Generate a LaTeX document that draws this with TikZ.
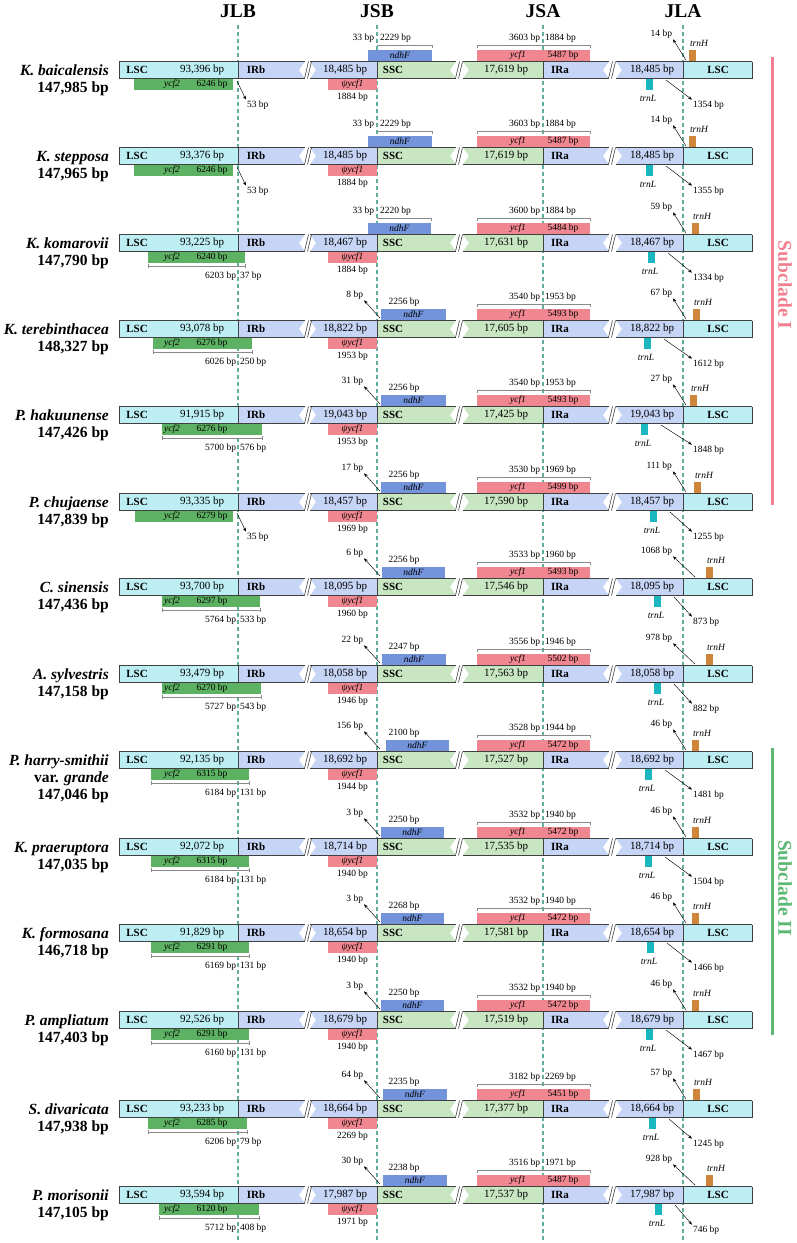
\documentclass[tikz,border=0pt]{standalone}
\usepackage{fontspec}
\setmainfont{Liberation Serif}
\usetikzlibrary{arrows.meta}
\definecolor{lscc}{HTML}{BDEEF3}
\definecolor{irc}{HTML}{C6D4F5}
\definecolor{sscc}{HTML}{C8E6C2}
\definecolor{ycftwoc}{HTML}{5CB262}
\definecolor{pinkc}{HTML}{F0868F}
\definecolor{ndhc}{HTML}{7393DB}
\definecolor{trnhc}{HTML}{D0863A}
\definecolor{trnlc}{HTML}{1BB7C1}
\definecolor{dashc}{HTML}{62AE9E}
\definecolor{dimc}{HTML}{8A8A8A}
\definecolor{subone}{HTML}{F07F8F}
\definecolor{subtwo}{HTML}{5DB873}
\tikzset{
  segline/.style={draw=black!75, line width=0.7pt},
  num/.style={inner sep=0.5pt, font=\fontsize{11}{12}\selectfont},
  reg/.style={inner sep=0.5pt, font=\fontsize{11}{12}\selectfont\bfseries},
  gn/.style={inner sep=0.5pt, font=\fontsize{9.5}{10}\selectfont\itshape},
  ann/.style={inner sep=0.8pt, font=\fontsize{9.5}{10}\selectfont},
  dimline/.style={draw=dimc, line width=0.5pt},
  arr/.style={-{Stealth[length=4pt,width=3pt]}, line width=0.45pt},
  spname/.style={inner sep=0pt, anchor=base east, font=\fontsize{15.5}{17}\selectfont\bfseries\itshape},
  spsize/.style={inner sep=0pt, anchor=base east, font=\fontsize{15.5}{17}\selectfont\bfseries},
  hdr/.style={inner sep=0pt, font=\fontsize{19.5}{20}\selectfont\bfseries},
  jdash/.style={draw=dashc, line width=1.2pt, dash pattern=on 4pt off 3pt},
  subl/.style={inner sep=0pt, rotate=-90, font=\fontsize{19.5}{20}\selectfont\bfseries},
}
% bar: LSC number, IR number, SSC number
\newcommand{\genomebar}[3]{%
  \fill[lscc] (119,-8.5) rectangle (238,8.5);
  \fill[irc] (238,-8.5) -- (305,-8.5) -- (299,0) -- (305,8.5) -- (238,8.5) -- cycle;
  \fill[irc] (310,-8.5) -- (377,-8.5) -- (377,8.5) -- (310,8.5) -- (316,0) -- cycle;
  \fill[sscc] (377,-8.5) -- (456,-8.5) -- (450,0) -- (456,8.5) -- (377,8.5) -- cycle;
  \fill[sscc] (463,-8.5) -- (543,-8.5) -- (543,8.5) -- (463,8.5) -- (469,0) -- cycle;
  \fill[irc] (543,-8.5) -- (609,-8.5) -- (603,0) -- (609,8.5) -- (543,8.5) -- cycle;
  \fill[irc] (616,-8.5) -- (683,-8.5) -- (683,8.5) -- (616,8.5) -- (622,0) -- cycle;
  \fill[lscc] (683,-8.5) rectangle (752,8.5);
  \foreach \a/\b in {119/305,310/456,463/609,616/752}{
    \draw[segline] (\a,-8.5) -- (\b,-8.5);
    \draw[segline] (\a,8.5) -- (\b,8.5);}
  \foreach \a in {119,238,377,543,683,752}{\draw[segline] (\a,-8.5) -- (\a,8.5);}
  \foreach \a in {305,456,609}{
    \draw[segline, line width=0.6pt] (\a-0.5,8.5) -- (\a+3.5,-8.5);
    \draw[segline, line width=0.6pt] (\a+2.5,8.5) -- (\a+6.5,-8.5);}
  \node[reg] (lscl) at (137,0) {LSC};
  \node[num] (lscn) at (202,0) {#1 bp};
  \node[reg] (irbl) at (256,0) {IRb};
  \node[num] (irbn) at (345,0) {#2 bp};
  \node[reg] (sscl) at (393,0) {SSC};
  \node[num] (sscn) at (506,0) {#3 bp};
  \node[reg] (iral) at (560,0) {IRa};
  \node[num] (iran) at (652,0) {#2 bp};
  \node[reg] (lscr) at (718,0) {LSC};
}
\newcommand{\species}[2]{%
  \node[spname] (spn) at (109,5.5) {#1};
  \node[spsize] (sps) at (109,22.5) {#2};
}
\newcommand{\ycftwo}[3]{%
  \fill[ycftwoc] (#1,8.5) rectangle (#2,19.5);
  \node[gn] (ytn) at (172,14) {ycf2};
  \node[ann] (yts) at (212,14) {#3 bp};
}
\newcommand{\ycftwodim}[4]{%
  \draw[dimline] (#1,23) -- (#2,23);
  \draw[dimline] (#1,21) -- (#1,25);
  \draw[dimline] (#2,21) -- (#2,25);
  \node[ann,anchor=east] (ytl) at (237,33) {#3 bp};
  \node[ann,anchor=west] (ytr) at (239,33) {#4 bp};
}
\newcommand{\jlbgap}[1]{%
  \coordinate (jg) at (237,11);
  \node[ann,anchor=west] (jgl) at (246,35) {#1 bp};
  \draw[arr] (jg) -- (jgl.north west);
}
\newcommand{\psiycf}[1]{%
  \fill[pinkc] (328,8.5) rectangle (377,19.5);
  \node[gn] (py) at (352.5,14) {ψycf1};
  \node[ann] (pyl) at (352.5,27) {#1 bp};
}
\newcommand{\ndhover}[4]{%
  \fill[ndhc] (#1,-20.5) rectangle (#2,-8.5);
  \node[gn] (nd) at ({(#1+#2)/2},-14.5) {ndhF};
  \draw[dimline] (377,-25) -- (#2,-25);
  \draw[dimline] (#2,-25) -- (#2,-22);
  \node[ann,anchor=east] (ndl) at (375,-32) {#3 bp};
  \node[ann,anchor=west] (ndr) at (379,-32) {#4 bp};
}
\newcommand{\ndhright}[4]{%
  \fill[ndhc] (#1,-20.5) rectangle (#2,-8.5);
  \node[gn] (nd) at ({(#1+#2)/2},-14.5) {ndhF};
  \node[ann] (ndl) at (404,-27) {#3 bp};
  \coordinate (ndg) at (380,-11);
  \node[ann,anchor=east] (ndgl) at (364,-34) {#4 bp};
  \draw[arr] (ndg) -- (ndgl.south east);
}
\newcommand{\ycfone}[3]{%
  \fill[pinkc] (477,-20.5) rectangle (590,-8.5);
  \node[gn] (yo) at (518,-14.5) {ycf1};
  \node[ann] (yos) at (563,-14.5) {#1 bp};
  \draw[dimline] (477,-25) -- (590,-25);
  \draw[dimline] (477,-25) -- (477,-22);
  \draw[dimline] (590,-25) -- (590,-22);
  \node[ann,anchor=east] (yol) at (541,-32) {#2 bp};
  \node[ann,anchor=west] (yor) at (544,-32) {#3 bp};
}
\newcommand{\trnH}[3]{%
  \fill[trnhc] (#1,-20.5) rectangle ({#1+7},-8.5);
  \node[gn] (th) at ({#1+10},-27) {trnH};
  \coordinate (thg) at (#3,-10);
  \node[ann,anchor=east] (thgl) at (673,-36) {#2 bp};
  \draw[arr] (thg) -- (thgl.south east);
}
\newcommand{\trnL}[2]{%
  \fill[trnlc] (#1,8.5) rectangle ({#1+7},19.5);
  \node[gn] (tl) at ({#1+2},28) {trnL};
  \coordinate (tlg) at ({#1+20},10);
  \node[ann,anchor=west] (tlgl) at (692,35) {#2 bp};
  \draw[arr] (tlg) -- (tlgl.north west);
}
\begin{document}
\begin{tikzpicture}[x=1pt,y=-1pt]
\useasboundingbox (0,0) rectangle (796,1243);
% headers
\node[hdr] (hjlb) at (238,11.5) {JLB};
\node[hdr] (hjsb) at (377,11.5) {JSB};
\node[hdr] (hjsa) at (543,11.5) {JSA};
\node[hdr] (hjla) at (683,11.5) {JLA};
% junction lines (behind)
\coordinate (dA) at (238,25); \coordinate (dA2) at (238,1243);
\coordinate (dB) at (377,25); \coordinate (dB2) at (377,1243);
\coordinate (dC) at (543,25); \coordinate (dC2) at (543,1243);
\coordinate (dD) at (683,25); \coordinate (dD2) at (683,1243);
\draw[jdash] (dA) -- (dA2);
\draw[jdash] (dB) -- (dB2);
\draw[jdash] (dC) -- (dC2);
\draw[jdash] (dD) -- (dD2);
% subclades
\draw[subone, line width=3pt] (772,57) -- (772,505);
\node[subl, text=subone] (subI) at (785,285) {Subclade I};
\draw[subtwo, line width=3pt] (772,748) -- (772,1035);
\node[subl, text=subtwo] (subII) at (785,888) {Subclade II};

% Row 1
\begin{scope}[shift={(0,70)}]
\ycftwo{134}{233}{6246}\jlbgap{53}\psiycf{1884}
\ndhover{368}{432}{33}{2229}\ycfone{5487}{3603}{1884}
\trnH{689}{14}{686}\trnL{646}{1354}
\genomebar{93,396}{18,485}{17,619}
\species{K. baicalensis}{147,985 bp}
\end{scope}
% Row 2
\begin{scope}[shift={(0,156)}]
\ycftwo{134}{233}{6246}\jlbgap{53}\psiycf{1884}
\ndhover{368}{432}{33}{2229}\ycfone{5487}{3603}{1884}
\trnH{689}{14}{686}\trnL{646}{1355}
\genomebar{93,376}{18,485}{17,619}
\species{K. stepposa}{147,965 bp}
\end{scope}
% Row 3
\begin{scope}[shift={(0,243)}]
\ycftwo{148}{245}{6240}\ycftwodim{148}{245}{6203}{37}\psiycf{1884}
\ndhover{368}{431}{33}{2220}\ycfone{5484}{3600}{1884}
\trnH{692}{59}{686}\trnL{648}{1334}
\genomebar{93,225}{18,467}{17,631}
\species{K. komarovii}{147,790 bp}
\end{scope}
% Row 4
\begin{scope}[shift={(0,329)}]
\ycftwo{153}{252}{6276}\ycftwodim{153}{252}{6026}{250}\psiycf{1953}
\ndhright{381}{446}{2256}{8}\ycfone{5493}{3540}{1953}
\trnH{693}{67}{686}\trnL{644}{1612}
\genomebar{93,078}{18,822}{17,605}
\species{K. terebinthacea}{148,327 bp}
\end{scope}
% Row 5
\begin{scope}[shift={(0,415)}]
\ycftwo{162}{262}{6276}\ycftwodim{162}{262}{5700}{576}\psiycf{1953}
\ndhright{381}{446}{2256}{31}\ycfone{5493}{3540}{1953}
\trnH{690}{27}{686}\trnL{641}{1848}
\genomebar{91,915}{19,043}{17,425}
\species{P. hakuunense}{147,426 bp}
\end{scope}
% Row 6
\begin{scope}[shift={(0,502)}]
\ycftwo{135}{233}{6279}\jlbgap{35}\psiycf{1969}
\ndhright{381}{446}{2256}{17}\ycfone{5499}{3530}{1969}
\trnH{694}{111}{686}\trnL{650}{1255}
\genomebar{93,335}{18,457}{17,590}
\species{P. chujaense}{147,839 bp}
\end{scope}
% Row 7
\begin{scope}[shift={(0,587)}]
\ycftwo{162}{260}{6297}\ycftwodim{162}{260}{5764}{533}\psiycf{1960}
\ndhright{382}{445}{2256}{6}\ycfone{5493}{3533}{1960}
\trnH{706}{1068}{695}\trnL{654}{873}
\genomebar{93,700}{18,095}{17,546}
\species{C. sinensis}{147,436 bp}
\end{scope}
% Row 8
\begin{scope}[shift={(0,674)}]
\ycftwo{162}{261}{6270}\ycftwodim{162}{261}{5727}{543}\psiycf{1946}
\ndhright{382}{446}{2247}{22}\ycfone{5502}{3556}{1946}
\trnH{706}{978}{695}\trnL{654}{882}
\genomebar{93,479}{18,058}{17,563}
\species{A. sylvestris}{147,158 bp}
\end{scope}
% Row 9
\begin{scope}[shift={(0,760)}]
\ycftwo{151}{249}{6315}\ycftwodim{151}{249}{6184}{131}\psiycf{1944}
\ndhright{386}{449}{2100}{156}\ycfone{5472}{3528}{1944}
\trnH{692}{46}{686}\trnL{645}{1481}
\genomebar{92,135}{18,692}{17,527}
\node[spname] (spn) at (109,5.5) {P. harry-smithii};
\node[spsize] (spv) at (109,22.5) {var. \textit{grande}};
\node[spsize] (sps) at (109,39.5) {147,046 bp};
\end{scope}
% Row 10
\begin{scope}[shift={(0,847)}]
\ycftwo{151}{249}{6315}\ycftwodim{151}{249}{6184}{131}\psiycf{1940}
\ndhright{381}{444}{2250}{3}\ycfone{5472}{3532}{1940}
\trnH{692}{46}{686}\trnL{645}{1504}
\genomebar{92,072}{18,714}{17,535}
\species{K. praeruptora}{147,035 bp}
\end{scope}
% Row 11
\begin{scope}[shift={(0,933)}]
\ycftwo{151}{249}{6291}\ycftwodim{151}{249}{6169}{131}\psiycf{1940}
\ndhright{381}{444}{2268}{3}\ycfone{5472}{3532}{1940}
\trnH{692}{46}{686}\trnL{647}{1466}
\genomebar{91,829}{18,654}{17,581}
\species{K. formosana}{146,718 bp}
\end{scope}
% Row 12
\begin{scope}[shift={(0,1020)}]
\ycftwo{151}{249}{6291}\ycftwodim{151}{249}{6160}{131}\psiycf{1940}
\ndhright{381}{444}{2250}{3}\ycfone{5472}{3532}{1940}
\trnH{692}{46}{686}\trnL{646}{1467}
\genomebar{92,526}{18,679}{17,519}
\species{P. ampliatum}{147,403 bp}
\end{scope}
% Row 13
\begin{scope}[shift={(0,1109)}]
\ycftwo{148}{247}{6285}\ycftwodim{148}{247}{6206}{79}\psiycf{2269}
\ndhright{383}{447}{2235}{64}\ycfone{5451}{3182}{2269}
\trnH{693}{57}{686}\trnL{649}{1245}
\genomebar{93,233}{18,664}{17,377}
\species{S. divaricata}{147,938 bp}
\end{scope}
% Row 14
\begin{scope}[shift={(0,1195)}]
\ycftwo{159}{259}{6120}\ycftwodim{159}{259}{5712}{408}\psiycf{1971}
\ndhright{383}{447}{2238}{30}\ycfone{5487}{3516}{1971}
\trnH{706}{928}{695}\trnL{655}{746}
\genomebar{93,594}{17,987}{17,537}
\species{P. morisonii}{147,105 bp}
\end{scope}
\end{tikzpicture}
\end{document}
